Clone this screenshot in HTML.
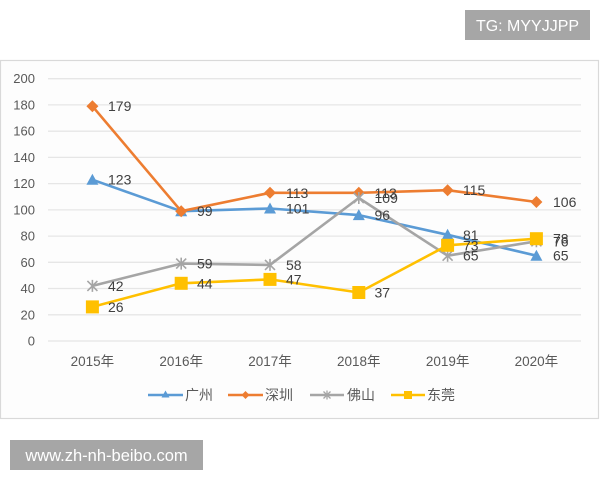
<!DOCTYPE html>
<html><head><meta charset="utf-8"><style>
html,body{margin:0;padding:0;background:#fff;}
svg{display:block;}
text{font-family:"Liberation Sans","Noto Sans CJK SC",sans-serif;}
</style></head><body>
<svg width="600" height="480" viewBox="0 0 600 480" xmlns="http://www.w3.org/2000/svg">
<rect x="0" y="0" width="600" height="480" fill="#fff"/>
<!-- TG badge -->
<rect x="465" y="10" width="125" height="30" fill="#a6a6a6"/>
<text x="527.5" y="31" font-size="16" fill="#fff" text-anchor="middle">TG: MYYJJPP</text>
<!-- chart frame -->
<rect x="0.5" y="60.5" width="598" height="358" fill="#fdfdfd" stroke="#d9d9d9" stroke-width="1.2"/>
<!-- gridlines -->
<g stroke="#e6e6e6" stroke-width="1.3">
<line x1="48" x2="581" y1="341" y2="341"/>
<line x1="48" x2="581" y1="314.8" y2="314.8"/>
<line x1="48" x2="581" y1="288.5" y2="288.5"/>
<line x1="48" x2="581" y1="262.3" y2="262.3"/>
<line x1="48" x2="581" y1="236.1" y2="236.1"/>
<line x1="48" x2="581" y1="209.9" y2="209.9"/>
<line x1="48" x2="581" y1="183.6" y2="183.6"/>
<line x1="48" x2="581" y1="157.4" y2="157.4"/>
<line x1="48" x2="581" y1="131.2" y2="131.2"/>
<line x1="48" x2="581" y1="104.9" y2="104.9"/>
<line x1="48" x2="581" y1="78.7" y2="78.7"/>
</g>
<!-- y labels -->
<g font-size="13" fill="#595959" text-anchor="end">
<text x="35" y="345.5">0</text>
<text x="35" y="319.3">20</text>
<text x="35" y="293">40</text>
<text x="35" y="266.8">60</text>
<text x="35" y="240.6">80</text>
<text x="35" y="214.4">100</text>
<text x="35" y="188.1">120</text>
<text x="35" y="161.9">140</text>
<text x="35" y="135.7">160</text>
<text x="35" y="109.4">180</text>
<text x="35" y="83.2">200</text>
</g>
<!-- x labels -->
<g font-size="13.5" fill="#595959" text-anchor="middle">
<text x="92.4" y="366">2015年</text>
<text x="181.2" y="366">2016年</text>
<text x="270" y="366">2017年</text>
<text x="358.8" y="366">2018年</text>
<text x="447.6" y="366">2019年</text>
<text x="536.4" y="366">2020年</text>
</g>
<!-- 广州 -->
<polyline fill="none" stroke="#5b9bd5" stroke-width="2.6" stroke-linejoin="round" points="92.4,179.7 181.2,211.2 270,208.5 358.8,215.1 447.6,234.8 536.4,255.7"/>
<g fill="#5b9bd5">
<polygon points="92.4,173.7 98.4,184.7 86.4,184.7"/>
<polygon points="181.2,205.2 187.2,216.2 175.2,216.2"/>
<polygon points="270,202.5 276,213.5 264,213.5"/>
<polygon points="358.8,209.1 364.8,220.1 352.8,220.1"/>
<polygon points="447.6,228.8 453.6,239.8 441.6,239.8"/>
<polygon points="536.4,249.7 542.4,260.7 530.4,260.7"/>
</g>
<!-- 深圳 -->
<polyline fill="none" stroke="#ed7d31" stroke-width="2.6" stroke-linejoin="round" points="92.4,106.2 181.2,211.2 270,192.8 358.8,192.8 447.6,190.2 536.4,202"/>
<g fill="#ed7d31">
<polygon points="92.4,100.2 98.4,106.2 92.4,112.2 86.4,106.2"/>
<polygon points="181.2,205.2 187.2,211.2 181.2,217.2 175.2,211.2"/>
<polygon points="270,186.8 276,192.8 270,198.8 264,192.8"/>
<polygon points="358.8,186.8 364.8,192.8 358.8,198.8 352.8,192.8"/>
<polygon points="447.6,184.2 453.6,190.2 447.6,196.2 441.6,190.2"/>
<polygon points="536.4,196 542.4,202 536.4,208 530.4,202"/>
</g>
<!-- 佛山 -->
<polyline fill="none" stroke="#a5a5a5" stroke-width="2.6" stroke-linejoin="round" points="92.4,285.9 181.2,263.6 270,264.9 358.8,198 447.6,255.7 536.4,241.3"/>
<g stroke="#a5a5a5" stroke-width="1.6" fill="none">
<path d="M87.4,280.9 L97.4,290.9 M97.4,280.9 L87.4,290.9 M92.4,279.9 L92.4,291.9"/>
<path d="M176.2,258.6 L186.2,268.6 M186.2,258.6 L176.2,268.6 M181.2,257.6 L181.2,269.6"/>
<path d="M265,259.9 L275,269.9 M275,259.9 L265,269.9 M270,258.9 L270,270.9"/>
<path d="M353.8,193 L363.8,203 M363.8,193 L353.8,203 M358.8,192 L358.8,204"/>
<path d="M442.6,250.7 L452.6,260.7 M452.6,250.7 L442.6,260.7 M447.6,249.7 L447.6,261.7"/>
<path d="M531.4,236.3 L541.4,246.3 M541.4,236.3 L531.4,246.3 M536.4,235.3 L536.4,247.3"/>
</g>
<!-- 东莞 -->
<polyline fill="none" stroke="#ffc000" stroke-width="2.6" stroke-linejoin="round" points="92.4,306.9 181.2,283.3 270,279.4 358.8,292.5 447.6,245.3 536.4,238.7"/>
<g fill="#ffc000">
<rect x="85.9" y="300.4" width="13" height="13"/>
<rect x="174.7" y="276.8" width="13" height="13"/>
<rect x="263.5" y="272.9" width="13" height="13"/>
<rect x="352.3" y="286" width="13" height="13"/>
<rect x="441.1" y="238.8" width="13" height="13"/>
<rect x="529.9" y="232.2" width="13" height="13"/>
</g>
<!-- data labels -->
<g font-size="14" fill="#404040" dominant-baseline="central">
<text x="108" y="179.7">123</text>
<text x="197" y="211.2">99</text>
<text x="286" y="208.5">101</text>
<text x="374.5" y="215.1">96</text>
<text x="463" y="234.8">81</text>
<text x="553" y="255.7">65</text>

<text x="108" y="106.2">179</text>
<text x="286" y="192.8">113</text>
<text x="374.5" y="192.8">113</text>
<text x="463" y="190.2">115</text>
<text x="553" y="202">106</text>

<text x="108" y="285.9">42</text>
<text x="197" y="263.6">59</text>
<text x="286" y="264.9">58</text>
<text x="374.5" y="198">109</text>
<text x="463" y="255.7">65</text>
<text x="553" y="241.3">76</text>

<text x="108" y="306.9">26</text>
<text x="197" y="283.3">44</text>
<text x="286" y="279.4">47</text>
<text x="374.5" y="292.5">37</text>
<text x="463" y="245.3">73</text>
<text x="553" y="238.7">78</text>
</g>
<!-- legend -->
<g stroke-width="2.6">
<line x1="148" x2="183" y1="395" y2="395" stroke="#5b9bd5"/>
<line x1="228" x2="263" y1="395" y2="395" stroke="#ed7d31"/>
<line x1="310" x2="344" y1="395" y2="395" stroke="#a5a5a5"/>
<line x1="391" x2="425" y1="395" y2="395" stroke="#ffc000"/>
</g>
<polygon points="165.5,390.5 169.5,397.5 161.5,397.5" fill="#5b9bd5"/>
<polygon points="245.5,391 249.5,395 245.5,399 241.5,395" fill="#ed7d31"/>
<path d="M323.5,391.5 L330.5,398.5 M330.5,391.5 L323.5,398.5 M327,390.5 L327,399.5" stroke="#a5a5a5" stroke-width="1.3"/>
<rect x="404" y="391" width="8" height="8" fill="#ffc000"/>
<g font-size="14" fill="#595959" dominant-baseline="central">
<text x="185" y="395">广州</text>
<text x="265" y="395">深圳</text>
<text x="347" y="395">佛山</text>
<text x="427" y="395">东莞</text>
</g>
<!-- watermark -->
<rect x="10" y="440" width="193" height="30" fill="#a6a6a6"/>
<text x="106.5" y="461" font-size="16.5" fill="#fff" text-anchor="middle">www.zh-nh-beibo.com</text>
</svg>
</body></html>
